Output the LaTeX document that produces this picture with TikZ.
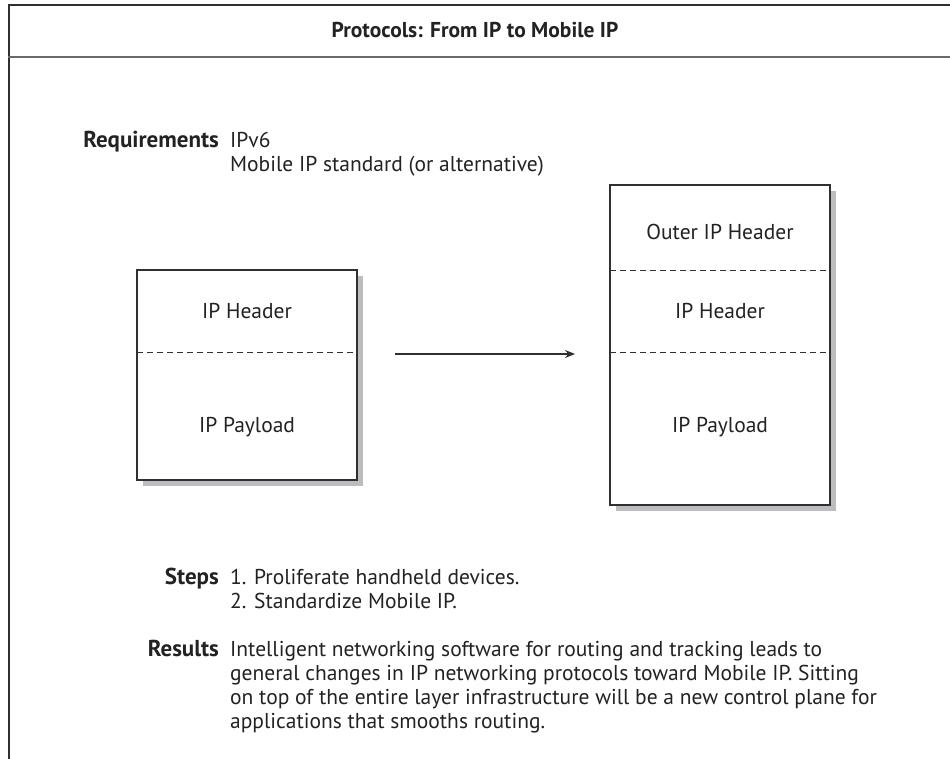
\documentclass[tikz,border=0pt]{standalone}
\usepackage{fontspec}
\setmainfont{PT Sans}
\usetikzlibrary{arrows.meta}
\definecolor{framegray}{HTML}{303030}
\definecolor{rulegray}{HTML}{6A6A6A}
\definecolor{shadowgray}{HTML}{BDBDBF}
\definecolor{inkgray}{HTML}{222222}
\tikzset{
  txt/.style={font=\fontsize{21.5}{24}\selectfont, text=inkgray, inner sep=0pt},
  lbl/.style={txt, font=\fontsize{23}{24}\selectfont\bfseries, anchor=base east},
  body/.style={txt, anchor=base west},
  pkt/.style={draw=framegray, line width=1.3pt, fill=white},
  shade/.style={fill=shadowgray, draw=none},
  sep/.style={draw=framegray, dashed, dash pattern=on 6pt off 4pt, line width=0.9pt},
  cell/.style={txt, anchor=center},
}
\begin{document}
\begin{tikzpicture}[x=1pt, y=-1pt]
\useasboundingbox (0,0) rectangle (950,759);
% outer frame: open on the right and bottom
\draw[framegray, line width=1.6pt] (951,5) -- (9,5) -- (9,760);
\draw[rulegray, line width=2.4pt] (8,57) -- (951,57);
\node[txt, font=\fontsize{21.5}{24}\selectfont\bfseries] (title) at (475,30) {Protocols: From IP to Mobile IP};

% requirements
\node[lbl] (req) at (219,148) {Requirements};
\node[body] (req1) at (230,148) {IPv6};
\node[body] (req2) at (230,172) {Mobile IP standard (or alternative)};

% plain IP packet
\fill[shade] (143,276) rectangle (363,486);
\draw[pkt] (137,270) rectangle (357,480);
\draw[sep] (137,352) -- (357,352);
\node[cell] (hdrA) at (247,311) {IP Header};
\node[cell] (payA) at (247,427) {IP Payload};
\coordinate (boxA) at (357,354);

% encapsulated packet
\fill[shade] (616,191) rectangle (836,511);
\draw[pkt] (610,185) rectangle (830,505);
\draw[sep] (610,270) -- (830,270);
\draw[sep] (610,352) -- (830,352);
\node[cell] (outB) at (720,232) {Outer IP Header};
\node[cell] (hdrB) at (720,311) {IP Header};
\node[cell] (payB) at (720,427) {IP Payload};
\coordinate (boxB) at (610,354);

% transition arrow
\draw[-{Stealth[length=10pt,width=8pt]}, framegray, line width=1.2pt, shorten <=38pt, shorten >=35pt] (boxA) -- (boxB);

% steps
\node[lbl] (steps) at (219,584) {Steps};
\node[body] (step1) at (230,584) {1. Proliferate handheld devices.};
\node[body] (step2) at (230,608) {2. Standardize Mobile IP.};

% results
\node[lbl] (res) at (219,656) {Results};
\node[body] (res1) at (230,656) {Intelligent networking software for routing and tracking leads to};
\node[body] (res2) at (230,680) {general changes in IP networking protocols toward Mobile IP. Sitting};
\node[body] (res3) at (230,704) {on top of the entire layer infrastructure will be a new control plane for};
\node[body] (res4) at (230,728) {applications that smooths routing.};
\end{tikzpicture}
\end{document}
